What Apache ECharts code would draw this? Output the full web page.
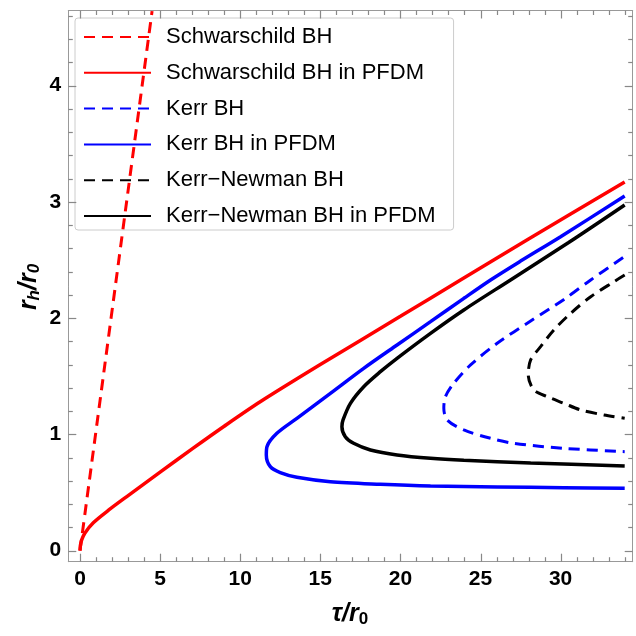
<!DOCTYPE html>
<html>
<head>
<meta charset="utf-8">
<script src="https://cdn.jsdelivr.net/npm/echarts@6/dist/echarts.min.js"></script>
<style>
  html, body { margin: 0; padding: 0; background: #fff; }
  #chart { width: 636px; height: 636px; }
</style>
</head>
<body>
<div id="chart"></div>
<script>
// Horizon radius r_h/r_0 against inverse temperature τ/r_0, pairs of [τ, r_h]
var seriesNames = [
  'Schwarschild BH',
  'Schwarschild BH in PFDM',
  'Kerr BH',
  'Kerr BH in PFDM',
  'Kerr\u2212Newman BH',
  'Kerr\u2212Newman BH in PFDM'
];

var schwarzschild = [[0, 0], [4.5, 4.64]];

var schwarzschildPFDM = [
  [0, 0], [0.02, 0.04], [0.1, 0.09], [0.3, 0.15], [0.83, 0.24], [1.8, 0.35],
  [2.92, 0.465], [5, 0.675], [7, 0.875], [9, 1.07], [11.25, 1.28], [15, 1.6],
  [20, 2.015], [23.75, 2.328], [28, 2.68], [34, 3.17]
];

var kerr = [
  [33.9, 2.52], [31.88, 2.328], [30.21, 2.16], [28.13, 1.975], [26.04, 1.783],
  [24.38, 1.597], [23.33, 1.439], [22.81, 1.324], [22.71, 1.224], [22.92, 1.124],
  [23.96, 1.038], [25.63, 0.966], [27.08, 0.923], [30.21, 0.88], [34, 0.851]
];

var kerrPFDM = [
  [34, 3.05], [30, 2.70], [27.5, 2.49], [25.63, 2.328], [23.96, 2.17], [21.88, 1.969],
  [19.79, 1.769], [17.71, 1.568], [15.63, 1.353], [13.54, 1.138], [12.29, 1.009],
  [11.67, 0.894], [11.63, 0.823], [11.88, 0.722], [12.5, 0.671], [13.54, 0.631],
  [15.63, 0.593], [18.75, 0.571], [21.88, 0.556], [26.04, 0.548], [30.2, 0.542],
  [34, 0.537]
];

var kerrNewman = [
  [34, 2.37], [33.33, 2.313], [31.88, 2.184], [30.63, 2.041], [29.58, 1.898],
  [28.75, 1.754], [28.13, 1.64], [27.98, 1.511], [28.33, 1.382], [29.17, 1.324],
  [30.21, 1.267], [31.25, 1.21], [32.71, 1.167], [34, 1.138]
];

var kerrNewmanPFDM = [
  [34, 2.973], [30.5, 2.65], [26.875, 2.328], [23.96, 2.07], [21.88, 1.869],
  [19.79, 1.654], [18.75, 1.539], [17.71, 1.41], [16.88, 1.267], [16.42, 1.124],
  [16.35, 1.066], [16.56, 0.98], [17.08, 0.923], [18.13, 0.866], [19.79, 0.823],
  [21.88, 0.794], [23.96, 0.777], [28.13, 0.754], [34, 0.728]
];

var xMajorTicks = [0, 5, 10, 15, 20, 25, 30];
var xMinorTicks = [1, 2, 3, 4, 6, 7, 8, 9, 11, 12, 13, 14, 16, 17, 18, 19, 21, 22, 23, 24, 26, 27, 28, 29, 31, 32, 33, 34];
var yMajorTicks = [0, 1, 2, 3, 4];
var yMinorTicks = [0.2, 0.4, 0.6, 0.8, 1.2, 1.4, 1.6, 1.8, 2.2, 2.4, 2.6, 2.8, 3.2, 3.4, 3.6, 3.8, 4.2, 4.4, 4.6];

var X_MIN = -0.73, X_MAX = 34.5;
var Y_MIN = -0.095, Y_MAX = 4.645;

var FRAME = '#999999';
var TICK = '#888888';
var FONT = '"Liberation Sans", Arial, sans-serif';

// One frame edge: the edge line, optional bold tick labels
function frameAxis(kind, position, labelValues) {
  var ax = {
    type: 'value',
    position: position,
    min: kind === 'x' ? X_MIN : Y_MIN,
    max: kind === 'x' ? X_MAX : Y_MAX,
    axisLine: { show: true, onZero: false, lineStyle: { color: FRAME, width: 1 } },
    splitLine: { show: false },
    axisTick: { show: false },
    axisLabel: { show: false }
  };
  if (labelValues) {
    ax.axisLabel = {
      show: true, customValues: labelValues,
      color: '#000', fontSize: 21, fontWeight: 'bold', fontFamily: FONT,
      margin: 7
    };
  }
  return ax;
}

// Inward tick marks on both opposite frame edges, placed through the axis scales
function tickSeries(kind, values, len) {
  var data = values.map(function (v) {
    return kind === 'x' ? [v, Y_MIN] : [X_MIN, v];
  });
  return {
    type: 'custom',
    silent: true,
    animation: false,
    clip: false,
    z: 6,
    xAxisIndex: 0,
    yAxisIndex: 0,
    data: data,
    renderItem: function (params, api) {
      var a, b, lines;
      var st = { stroke: TICK, lineWidth: 1.2 };
      if (kind === 'x') {
        var v = api.value(0);
        a = api.coord([v, Y_MIN]);
        b = api.coord([v, Y_MAX]);
        var x = Math.round(a[0]) + 0.5;
        lines = [
          { type: 'line', shape: { x1: x, y1: a[1], x2: x, y2: a[1] - len }, style: st },
          { type: 'line', shape: { x1: x, y1: b[1], x2: x, y2: b[1] + len }, style: st }
        ];
      } else {
        var w = api.value(1);
        a = api.coord([X_MIN, w]);
        b = api.coord([X_MAX, w]);
        var y = Math.round(a[1]) + 0.5;
        lines = [
          { type: 'line', shape: { x1: a[0], y1: y, x2: a[0] + len, y2: y }, style: st },
          { type: 'line', shape: { x1: b[0], y1: y, x2: b[0] - len, y2: y }, style: st }
        ];
      }
      return { type: 'group', children: lines };
    }
  };
}

var chart = echarts.init(document.getElementById('chart'), null, { renderer: 'canvas' });

function lineSeries(name, data, color, dashed) {
  return {
    name: name,
    type: 'line',
    xAxisIndex: 0,
    yAxisIndex: 0,
    data: data,
    showSymbol: false,
    symbol: 'none',
    smooth: 0.3,
    clip: true,
    animation: false,
    lineStyle: {
      color: color,
      width: dashed ? 3 : 3.5,
      type: dashed ? [11, 7] : 'solid',
      cap: 'butt'
    },
    itemStyle: { color: color }
  };
}

chart.setOption({
  animation: false,
  backgroundColor: '#fff',
  grid: {
    left: 68.3, right: 3.3, top: 10.5, bottom: 74.3,
    show: false
  },
  xAxis: [
    frameAxis('x', 'bottom', xMajorTicks),
    frameAxis('x', 'top', null)
  ],
  yAxis: [
    frameAxis('y', 'left', yMajorTicks),
    frameAxis('y', 'right', null)
  ],
  legend: {
    orient: 'vertical',
    left: 75,
    top: 18,
    data: seriesNames,
    itemWidth: 67,
    itemHeight: 14,
    itemGap: 13.8,
    padding: [8, 18, 3, 8],
    borderColor: '#cccccc',
    borderWidth: 1,
    borderRadius: 3,
    backgroundColor: 'transparent',
    selectedMode: false,
    itemStyle: { color: 'transparent', borderWidth: 0, opacity: 0 },
    textStyle: {
      color: '#000', fontSize: 22, fontFamily: FONT, padding: [0, 0, 0, 10], lineHeight: 22
    }
  },
  series: [
    lineSeries(seriesNames[0], schwarzschild, '#ff0000', true),
    lineSeries(seriesNames[1], schwarzschildPFDM, '#ff0000', false),
    lineSeries(seriesNames[2], kerr, '#0000ff', true),
    lineSeries(seriesNames[3], kerrPFDM, '#0000ff', false),
    lineSeries(seriesNames[4], kerrNewman, '#000000', true),
    lineSeries(seriesNames[5], kerrNewmanPFDM, '#000000', false),
    tickSeries('x', xMajorTicks, 8),
    tickSeries('x', xMinorTicks, 4.5),
    tickSeries('y', yMajorTicks, 8),
    tickSeries('y', yMinorTicks, 4.5)
  ],
  graphic: [
    {
      type: 'text',
      x: 350, y: 614,
      style: {
        text: '{i|\u03c4/r}{s|0}',
        align: 'center', verticalAlign: 'middle',
        rich: {
          i: { fontSize: 25, fontStyle: 'italic', fontWeight: 'bold', fontFamily: FONT, fill: '#000', lineHeight: 28 },
          s: { fontSize: 17, fontWeight: 'bold', fontFamily: FONT, fill: '#000', lineHeight: 10, verticalAlign: 'bottom' }
        }
      }
    },
    {
      type: 'text',
      x: 29, y: 287,
      rotation: Math.PI / 2,
      style: {
        text: '{i|r}{s|h}{i|/r}{s|0}',
        align: 'center', verticalAlign: 'middle',
        rich: {
          i: { fontSize: 25, fontStyle: 'italic', fontWeight: 'bold', fontFamily: FONT, fill: '#000', lineHeight: 28 },
          s: { fontSize: 17, fontStyle: 'italic', fontWeight: 'bold', fontFamily: FONT, fill: '#000', lineHeight: 10, verticalAlign: 'bottom' }
        }
      }
    }
  ]
});
</script>
</body>
</html>
